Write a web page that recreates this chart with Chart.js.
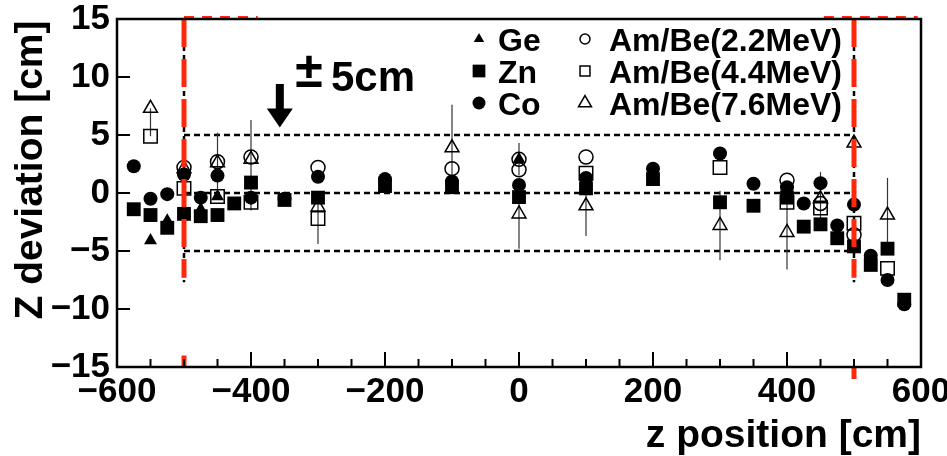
<!DOCTYPE html>
<html>
<head>
<meta charset="utf-8">
<script src="https://cdn.jsdelivr.net/npm/chart.js@4.4.1/dist/chart.umd.min.js"></script>
<style>
  html, body { margin: 0; padding: 0; background: #fff; }
  canvas { display: block; }
</style>
</head>
<body>
<canvas id="chart" width="947" height="456"></canvas>
<script>
// z position [cm] and Z deviation [cm] per source
const geZ = [-550, -525, -475, -450, 0];
const geDev = [-4.1, -2.4, -1.4, -0.3, 2.9];

const znZ = [-575, -550, -525, -500, -475, -450, -425, -400, -350, -300, -200, -100, 0, 100, 200, 300, 350, 400, 425, 450, 475, 500, 525, 550, 575];
const znDev = [-1.4, -1.9, -3.0, -1.8, -2.0, -1.9, -0.9, 0.9, -0.6, -0.4, 0.6, 0.5, -0.35, 0.4, 1.2, -0.8, -1.1, -0.4, -2.9, -2.7, -3.9, -4.6, -6.2, -4.8, -9.2];

const coZ = [-575, -550, -525, -500, -475, -450, -400, -350, -300, -200, -100, 0, 100, 200, 300, 350, 400, 425, 450, 475, 500, 525, 550, 575];
const coDev = [2.3, -0.5, -0.1, 1.6, -0.4, 1.5, -0.4, -0.5, 1.4, 1.2, 1.0, 0.7, 1.3, 2.1, 3.4, 0.8, 0.5, -0.9, 0.85, -2.8, -1.0, -5.4, -7.5, -9.6];

const amBe22Z = [-500, -450, -400, -300, -100, 0, 0, 100, 400, 450, 500];
const amBe22Dev = [2.2, 2.7, 3.1, 2.2, 2.1, 2.9, 2.0, 3.1, 1.1, -0.9, -3.6];
const amBe22ErrUp = [0, 2.5, 0, 0, 0, 1.4, 0, 0, 0, 0, 0];
const amBe22ErrDown = [0, 2.5, 0, 0, 0, 1.4, 0, 0, 0, 0, 0];

const amBe44Z = [-550, -500, -450, -400, -300, 100, 300, 400, 450, 500, 550];
const amBe44Dev = [4.9, 0.4, -0.3, -0.8, -2.2, 1.7, 2.2, -0.8, -1.3, -2.6, -6.5];
const amBe44ErrUp = [0, 0, 0, 0, 2.2, 0, 0, 0, 0, 0, 0];
const amBe44ErrDown = [0, 0, 0, 0, 2.2, 0, 0, 0, 0, 0, 0];

const amBe76Z = [-550, -500, -450, -400, -300, -100, 0, 100, 300, 400, 450, 500, 550];
const amBe76Dev = [7.3, 2.1, 2.6, 2.9, -1.2, 3.9, -1.8, -1.1, -2.8, -3.4, -0.5, 4.3, -1.9];
const amBe76ErrUp = [0, 0, 0, 3.4, 0, 3.7, 3.0, 2.6, 3.0, 3.2, 2.3, 0, 3.2];
const amBe76ErrDown = [2.4, 0, 0, 4.4, 0, 3.7, 3.0, 2.6, 3.0, 3.2, 2.3, 0, 3.2];

const seriesNames = ['Ge', 'Zn', 'Co', 'Am/Be(2.2MeV)', 'Am/Be(4.4MeV)', 'Am/Be(7.6MeV)'];

const xTickValues = [-600, -400, -200, 0, 200, 400, 600];
const yTickValues = [-15, -10, -5, 0, 5, 10, 15];
const xMinorStep = 50;

const guideLevels = [5, 0, -5];       // ±5cm band
const detectorEnds = [-500, 500];     // vertical dashed lines

const FONT = '"Liberation Sans", Arial, Helvetica, sans-serif';

function toPoints(zs, vs) {
  return zs.map((z, i) => ({ x: z, y: vs[i] }));
}
function minusLabel(v) {
  return v < 0 ? '\u2212' + Math.abs(v) : String(v);
}

const errorBars = {
  id: 'errorBars',
  beforeDatasetsDraw(chart) {
    const { ctx, scales: { x, y } } = chart;
    ctx.save();
    ctx.strokeStyle = '#333';
    ctx.lineWidth = 1.2;
    chart.data.datasets.forEach(ds => {
      if (!ds.errUp) return;
      ds.data.forEach((p, i) => {
        const up = ds.errUp[i], down = ds.errDown[i];
        if (!up && !down) return;
        const px = x.getPixelForValue(p.x);
        ctx.beginPath();
        ctx.moveTo(px, y.getPixelForValue(p.y + up));
        ctx.lineTo(px, y.getPixelForValue(p.y - down));
        ctx.stroke();
      });
    });
    ctx.restore();
  }
};

const guides = {
  id: 'guides',
  beforeDatasetsDraw(chart) {
    const { ctx, scales: { x, y } } = chart;
    ctx.save();
    ctx.strokeStyle = '#000';
    ctx.lineWidth = 2.5;
    ctx.setLineDash([6, 4]);
    guideLevels.forEach(v => {
      ctx.beginPath();
      ctx.moveTo(x.getPixelForValue(detectorEnds[0]), y.getPixelForValue(v));
      ctx.lineTo(x.getPixelForValue(detectorEnds[1]), y.getPixelForValue(v));
      ctx.stroke();
    });
    ctx.setLineDash([5, 4]);
    detectorEnds.forEach(z => {
      ctx.beginPath();
      ctx.moveTo(x.getPixelForValue(z), y.getPixelForValue(15));
      ctx.lineTo(x.getPixelForValue(z), y.getPixelForValue(-7.7));
      ctx.stroke();
    });
    ctx.restore();
  }
};

const overlay = {
  id: 'overlay',
  afterDatasetsDraw(chart) {
    const { ctx, chartArea: a, scales: { x, y } } = chart;
    const H = Chart.helpers;
    ctx.save();

    // red dashed lines
    ctx.strokeStyle = 'rgb(255,40,10)';
    ctx.lineWidth = 5;
    ctx.setLineDash([28, 12]);
    detectorEnds.forEach(z => {
      ctx.beginPath();
      ctx.moveTo(x.getPixelForValue(z), a.top);
      ctx.lineTo(x.getPixelForValue(z), y.getPixelForValue(-7.3));
      ctx.stroke();
    });
    ctx.setLineDash([]);
    ctx.beginPath();
    ctx.moveTo(x.getPixelForValue(-500), y.getPixelForValue(-14));
    ctx.lineTo(x.getPixelForValue(-500), a.bottom);
    ctx.moveTo(x.getPixelForValue(500), a.bottom);
    ctx.lineTo(x.getPixelForValue(500), a.bottom + 12);
    ctx.stroke();
    ctx.lineWidth = 4;
    ctx.setLineDash([10, 8]);
    ctx.beginPath();
    ctx.moveTo(x.getPixelForValue(-500), a.top - 1);
    ctx.lineTo(x.getPixelForValue(-390), a.top - 1);
    ctx.moveTo(x.getPixelForValue(455), a.top - 1);
    ctx.lineTo(x.getPixelForValue(595), a.top - 1);
    ctx.stroke();
    ctx.setLineDash([]);

    // frame
    ctx.strokeStyle = '#000';
    ctx.lineWidth = 2.5;
    ctx.strokeRect(a.left, a.top, a.right - a.left, a.bottom - a.top);

    // ticks (inward)
    ctx.lineWidth = 2;
    yTickValues.slice(1, -1).forEach(v => {
      const py = y.getPixelForValue(v);
      ctx.beginPath();
      ctx.moveTo(a.left, py);
      ctx.lineTo(a.left + 13, py);
      ctx.stroke();
    });
    for (let z = x.min + xMinorStep; z < x.max; z += xMinorStep) {
      const px = x.getPixelForValue(z);
      const len = xTickValues.includes(z) ? 15 : 8;
      ctx.beginPath();
      ctx.moveTo(px, a.bottom);
      ctx.lineTo(px, a.bottom - len);
      ctx.stroke();
    }

    // arrow to the ±5cm band
    const ax = x.getPixelForValue(-357);
    const aTop = y.getPixelForValue(9.4);
    const aTip = y.getPixelForValue(5.65);
    ctx.fillStyle = '#000';
    ctx.fillRect(ax - 4, aTop, 8, aTip - aTop - 16);
    ctx.beginPath();
    ctx.moveTo(ax - 13, aTip - 19);
    ctx.lineTo(ax + 13, aTip - 19);
    ctx.lineTo(ax, aTip);
    ctx.closePath();
    ctx.fill();

    ctx.textBaseline = 'middle';
    ctx.textAlign = 'center';
    ctx.font = 'bold 50px ' + FONT;
    ctx.fillText('\u00b1', 309, 73);
    ctx.textAlign = 'left';
    ctx.font = 'bold 42px ' + FONT;
    ctx.fillText('5cm', 331, 79);

    // legend
    const styles = chart.data.datasets;
    const cols = [
      { mx: 479, tx: 498, idx: [0, 1, 2] },
      { mx: 585, tx: 609, idx: [3, 4, 5] }
    ];
    const rowY = [42, 74, 106];
    const legendRadius = [6, 9, 6.5, 5, 7, 7.5];
    ctx.font = 'bold 32px ' + FONT;
    cols.forEach(c => {
      c.idx.forEach((di, r) => {
        const ds = styles[di];
        ctx.fillStyle = ds.backgroundColor;
        ctx.strokeStyle = ds.borderColor;
        ctx.lineWidth = ds.borderWidth;
        H.drawPoint(ctx, { pointStyle: ds.pointStyle, radius: legendRadius[di], rotation: 0, borderWidth: ds.borderWidth }, c.mx, rowY[r] - 3);
        ctx.fillStyle = '#000';
        ctx.fillText(seriesNames[di], c.tx, rowY[r]);
      });
    });

    // axis titles
    ctx.fillStyle = '#000';
    ctx.font = 'bold 39px ' + FONT;
    ctx.textAlign = 'right';
    ctx.textBaseline = 'alphabetic';
    ctx.fillText('z position [cm]', a.right, 447);
    ctx.save();
    ctx.translate(42, 170);
    ctx.rotate(-Math.PI / 2);
    ctx.textAlign = 'center';
    ctx.font = 'bold 39px ' + FONT;
    ctx.fillText('Z deviation [cm]', 0, 0);
    ctx.restore();

    ctx.restore();
  }
};

const filled = { backgroundColor: '#000', borderColor: '#000', borderWidth: 0 };
const hollow = { backgroundColor: 'rgba(0,0,0,0)', borderColor: '#000', borderWidth: 1.5 };

new Chart(document.getElementById('chart'), {
  type: 'scatter',
  data: {
    datasets: [
      { label: seriesNames[0], data: toPoints(geZ, geDev), pointStyle: 'triangle', pointRadius: 7.5, ...filled },
      { label: seriesNames[1], data: toPoints(znZ, znDev), pointStyle: 'rect', pointRadius: 9.8, ...filled },
      { label: seriesNames[2], data: toPoints(coZ, coDev), pointStyle: 'circle', pointRadius: 7, ...filled },
      { label: seriesNames[3], data: toPoints(amBe22Z, amBe22Dev), errUp: amBe22ErrUp, errDown: amBe22ErrDown, pointStyle: 'circle', pointRadius: 7, ...hollow },
      { label: seriesNames[4], data: toPoints(amBe44Z, amBe44Dev), errUp: amBe44ErrUp, errDown: amBe44ErrDown, pointStyle: 'rect', pointRadius: 9.5, ...hollow },
      { label: seriesNames[5], data: toPoints(amBe76Z, amBe76Dev), errUp: amBe76ErrUp, errDown: amBe76ErrDown, pointStyle: 'triangle', pointRadius: 8, ...hollow }
    ]
  },
  options: {
    responsive: false,
    animation: false,
    layout: { padding: { top: 19, right: 26, left: 0, bottom: 0 } },
    plugins: { legend: { display: false }, tooltip: { enabled: false } },
    scales: {
      x: {
        type: 'linear',
        min: -600,
        max: 600,
        grid: { display: false, drawTicks: false },
        border: { display: false },
        afterBuildTicks: s => { s.ticks = xTickValues.map(v => ({ value: v })); },
        afterFit: s => { s.height = 89; s.paddingLeft = 0; s.paddingRight = 0; },
        ticks: {
          color: '#000',
          padding: 8,
          maxRotation: 0,
          font: { family: FONT, size: 35, weight: 'bold', lineHeight: 1 },
          callback: v => minusLabel(v)
        }
      },
      y: {
        type: 'linear',
        min: -15,
        max: 15,
        grid: { display: false, drawTicks: false },
        border: { display: false },
        afterBuildTicks: s => { s.ticks = yTickValues.map(v => ({ value: v })); },
        afterFit: s => { s.width = 117; s.paddingTop = 0; s.paddingBottom = 0; },
        ticks: {
          color: '#000',
          padding: 7,
          font: { family: FONT, size: 35, weight: 'bold', lineHeight: 1 },
          callback: v => minusLabel(v)
        }
      }
    }
  },
  plugins: [guides, errorBars, overlay]
});
</script>
</body>
</html>
